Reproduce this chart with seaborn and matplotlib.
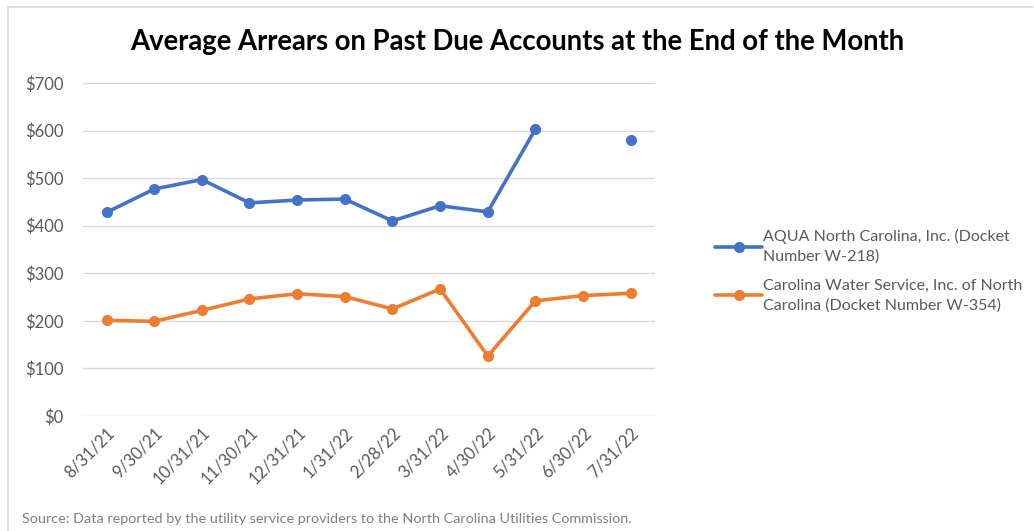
import matplotlib

matplotlib.use("Agg")
import matplotlib.pyplot as plt
import numpy as np
import pandas as pd
import seaborn as sns
from matplotlib import ticker
from matplotlib.lines import Line2D

dates = [
    "8/31/21", "9/30/21", "10/31/21", "11/30/21", "12/31/21", "1/31/22",
    "2/28/22", "3/31/22", "4/30/22", "5/31/22", "6/30/22", "7/31/22",
]
aqua = [428, 477, 497, 448, 454, 456, 410, 442, 429, 603, np.nan, 580]
carolina = [201, 199, 222, 246, 257, 251, 225, 267, 126, 242, 253, 258]

aqua_label = "AQUA North Carolina, Inc. (Docket\nNumber W-218)"
carolina_label = "Carolina Water Service, Inc. of North\nCarolina (Docket Number W-354)"
title = "Average Arrears on Past Due Accounts at the End of the Month"
source = "Source: Data reported by the utility service providers to the North Carolina Utilities Commission."

blue = "#4472C4"
orange = "#ED7D31"

# long form; a missing month starts a new segment so the line breaks there
rows = []
for name, values in [("aqua", aqua), ("carolina", carolina)]:
    seg = 0
    for i, v in enumerate(values):
        if np.isnan(v):
            seg += 1
            continue
        rows.append({"x": i, "value": v, "series": name, "unit": f"{name}_{seg}"})
df = pd.DataFrame(rows)

sns.set_style("white")
plt.rcParams["font.family"] = ["Lato", "DejaVu Sans"]

fig = plt.figure(figsize=(10.34, 5.31), dpi=100)
ax = fig.add_axes([0.080, 0.2166, 0.553, 0.6271])

sns.lineplot(
    data=df,
    x="x",
    y="value",
    hue="series",
    units="unit",
    estimator=None,
    palette={"aqua": blue, "carolina": orange},
    marker="o",
    markersize=8,
    markeredgewidth=0,
    linewidth=2.6,
    legend=False,
    ax=ax,
)

ax.set_ylim(0, 700)
ax.set_xlim(-0.5, len(dates) - 0.5)
ax.set_yticks(range(0, 701, 100))
ax.yaxis.set_major_formatter(ticker.FuncFormatter(lambda v, _: f"${v:.0f}"))
ax.set_xticks(range(len(dates)))
ax.set_xticklabels(dates, rotation=45, ha="right", rotation_mode="anchor")
ax.tick_params(axis="both", length=0, labelsize=12, colors="#595959")
ax.tick_params(axis="y", pad=14)
ax.tick_params(axis="x", pad=6)
ax.grid(axis="y", color="#d9d9d9", linewidth=1)
ax.set_axisbelow(True)
for s in ax.spines.values():
    s.set_visible(False)
ax.set_xlabel("")
ax.set_ylabel("")

handles = [
    Line2D([], [], color=blue, lw=2.6, marker="o", markersize=8, markeredgewidth=0),
    Line2D([], [], color=orange, lw=2.6, marker="o", markersize=8, markeredgewidth=0),
]
leg = fig.legend(
    handles,
    [aqua_label, carolina_label],
    loc="center left",
    bbox_to_anchor=(0.678, 0.49),
    frameon=False,
    fontsize=11.5,
    labelcolor="#595959",
    handlelength=2.9,
    handletextpad=0.1,
    labelspacing=0.9,
)
for t in leg.get_texts():
    t.set_linespacing(1.5)

fig.text(0.5, 0.92, title, ha="center", va="center", fontsize=19.8, fontweight="bold", color="black")
fig.text(22 / 1034, 0.022, source, ha="left", va="center", fontsize=10.4, color="#7f7f7f")

# chart frame (top and left edges visible)
fig.add_artist(Line2D([8 / 1034, 1033 / 1034], [1 - 7 / 531, 1 - 7 / 531], color="#d9d9d9", lw=1.2))
fig.add_artist(Line2D([8 / 1034, 8 / 1034], [1 - 7 / 531, 0], color="#d9d9d9", lw=1.2))

fig.savefig("out.png", dpi=100)
